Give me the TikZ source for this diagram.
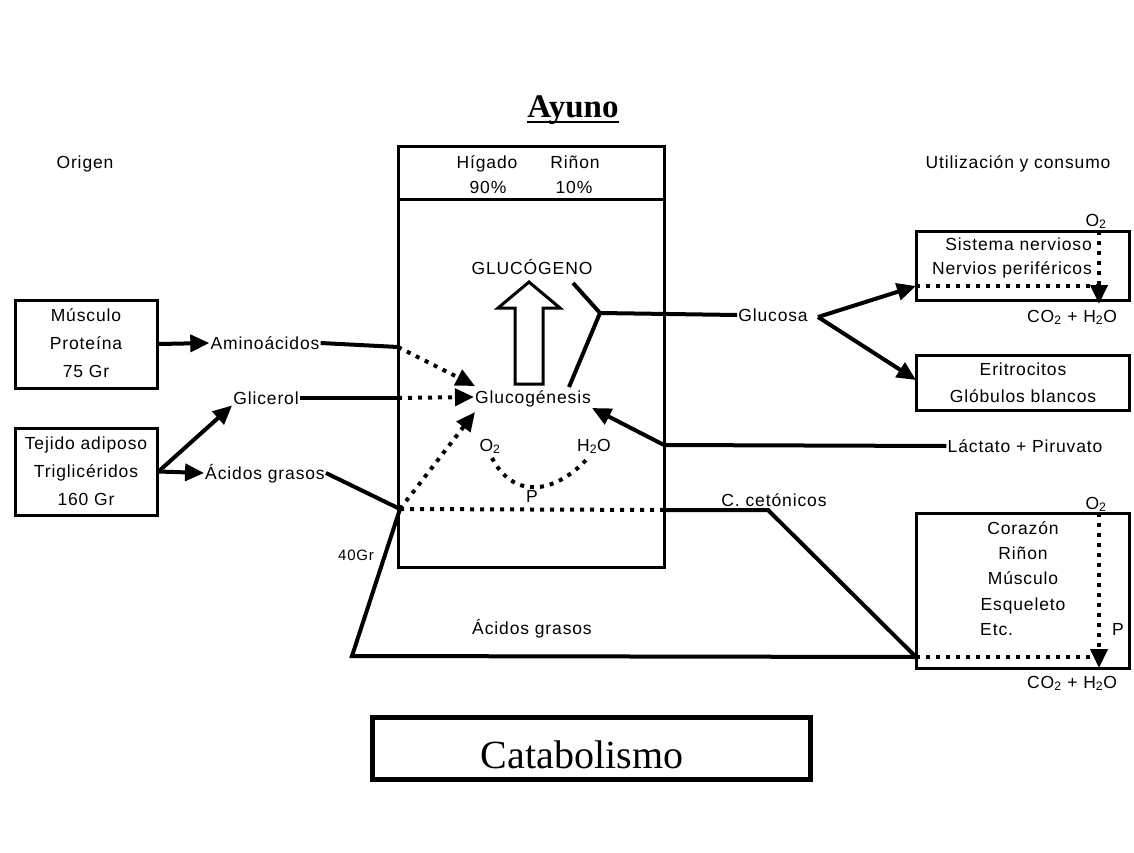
\documentclass[tikz,border=0pt]{standalone}
\usepackage{fontspec}
\setmainfont[LetterSpace=5]{Liberation Sans}
\newfontfamily\serifft{Liberation Serif}
\usetikzlibrary{arrows.meta}

\begin{document}
\begin{tikzpicture}[x=1pt, y=-1pt,
        font=\fontsize{17.5}{21}\selectfont,
        lbl/.style={inner sep=1pt, text height=12.5pt, text depth=0pt},
        box/.style={draw, line width=3pt, inner sep=0pt},
        conn/.style={line width=4pt},
        dots/.style={line width=4pt, dash pattern=on 4pt off 6pt},
        arr/.style={-{Triangle[length=19pt, width=17pt]}}]
        \fill[white] (0,0) rectangle (1134,853);
        \useasboundingbox (0,0) rectangle (1134,853);

        \node[inner sep=0pt, text height=21.8pt, text depth=0pt, font=\serifft\bfseries\fontsize{33}{36}\selectfont] (ayuno) at (573,107) {Ayuno};
        \draw[line width=2pt] ([yshift=-4pt]ayuno.south west) -- ([yshift=-4pt]ayuno.south east);
        \node[lbl] (origen) at (85,162) {Origen};
        \node[lbl] (uso) at (1018,162) {Utilización y consumo};

        % central box
        \node[box, minimum width=266pt, minimum height=420pt] (organ) at (531,357) {};
        \draw[line width=3pt] (organ.west |- 0,199) -- (organ.east |- 0,199);
        \node[lbl] (higado) at (487,162) {Hígado};
        \node[lbl] (rinon) at (575,162) {Riñon};
        \node[lbl] (p90) at (488,187) {90\%};
        \node[lbl] (p10) at (574,187) {10\%};
        \node[lbl] (glucogeno) at (532,268) {GLUCÓGENO};
        \node[lbl] (gluc) at (533,397) {Glucogénesis};
        \node[lbl] (o2b) at (490,445) {O\textsubscript{2}};
        \node[lbl] (h2ob) at (594,445) {H\textsubscript{2}O};
        \node[lbl] (pb) at (532,496) {P};
        \draw[line width=3pt] (515,384) -- (515,308) -- (498,308) -- (529,282) -- (560,308) -- (543,308) -- (543,384) -- cycle;

        % sources
        \node[box, minimum width=142pt, minimum height=88pt] (musculo) at (86,344) {};
        \node[lbl] (mus1) at (86,315) {Músculo};
        \node[lbl] (mus2) at (86,343) {Proteína};
        \node[lbl] (mus3) at (86,371) {75 Gr};
        \node[box, minimum width=142pt, minimum height=87pt] (tejido) at (86,471.5) {};
        \node[lbl] (tej1) at (86,443) {Tejido adiposo};
        \node[lbl] (tej2) at (86,471) {Triglicéridos};
        \node[lbl] (tej3) at (86,499) {160 Gr};
        \node[lbl] (amino) at (265,343) {Aminoácidos};
        \node[lbl] (glicerol) at (266,398) {Glicerol};
        \node[lbl] (acidos) at (265,473) {Ácidos grasos};
        \node[lbl, font=\fontsize{15}{18}\selectfont, text height=10.7pt] (gr40) at (356,555) {40Gr};
        \node[lbl] (acidosb) at (532,628) {Ácidos grasos};
        \node[lbl] (cet) at (774,500) {C. cetónicos};

        % consumers
        \node[lbl] (glucosa) at (773,315) {Glucosa};
        \node[lbl] (lactato) at (1025,446) {Láctato + Piruvato};
        \node[box, minimum width=213pt, minimum height=69pt] (sistema) at (1022.5,265.5) {};
        \node[lbl, anchor=east] (sis1) at (1093,244) {Sistema nervioso};
        \node[lbl, anchor=east] (sis2) at (1093,268) {Nervios periféricos};
        \node[lbl] (o2a) at (1096,220) {O\textsubscript{2}};
        \node[lbl] (co2a) at (1072,316) {CO\textsubscript{2} + H\textsubscript{2}O};
        \node[box, minimum width=213pt, minimum height=55pt] (eritro) at (1022.5,382.5) {};
        \node[lbl] (eri1) at (1023,369) {Eritrocitos};
        \node[lbl] (eri2) at (1023,396) {Glóbulos blancos};
        \node[box, minimum width=213pt, minimum height=155pt] (corazon) at (1022.5,590.5) {};
        \node[lbl] (cor1) at (1023,528) {Corazón};
        \node[lbl] (cor2) at (1023,553) {Riñon};
        \node[lbl] (cor3) at (1023,578) {Músculo};
        \node[lbl] (cor4) at (1023,604) {Esqueleto};
        \node[lbl, anchor=west] (cor5) at (979,629) {Etc.};
        \node[lbl] (o2c) at (1096,503) {O\textsubscript{2}};
        \node[lbl] (pc) at (1118,629) {P};
        \node[lbl] (co2c) at (1072,682) {CO\textsubscript{2} + H\textsubscript{2}O};

        \coordinate (aIn) at (398,347);
        \coordinate (tipA) at (475,386);
        \coordinate (bIn) at (398,398);
        \coordinate (fork) at (400,509);
        \coordinate (tipC) at (475,412);
        \coordinate (cetIn) at (664,510);
        \coordinate (cetK) at (768,510);
        \coordinate (heart) at (916,657);
        \coordinate (grLow) at (352,656);
        \coordinate (lacIn) at (664,445);
        \coordinate (tipL) at (592,408);
        \coordinate (yJ) at (600,313);
        \coordinate (yTop) at (573,283);
        \coordinate (yBot) at (569,387);
        \coordinate (gv) at (818,317);
        \coordinate (sisIn) at (916,286);
        \coordinate (eriIn) at (916,380);
        \coordinate (sisDot) at (1099,286);
        \coordinate (sisTop) at (1099,231);
        \coordinate (sisTip) at (1099,304);
        \coordinate (corDot) at (1099,657);
        \coordinate (corTop) at (1099,513);
        \coordinate (corTip) at (1099,668);
        \coordinate (o2s) at (492,458);
        \coordinate (h2os) at (588,458);

        \draw[conn, arr] (musculo.east) -- (amino.west);
        \draw[conn, arr] (tejido.east) -- (glicerol.south west);
        \draw[conn, arr] (tejido.east) -- (acidos.west);
        \draw[conn] (amino.east) -- (aIn);
        \draw[dots, arr] (aIn) -- (tipA);
        \draw[conn] (glicerol.east) -- (bIn);
        \draw[dots, arr] (bIn) -- (gluc.west);
        \draw[conn] (acidos.east) -- (fork);
        \draw[dots, arr] (fork) -- (tipC);
        \draw[dots] (fork) -- (cetIn);
        \draw[conn] (cetIn) -- (cetK) -- (heart);
        \draw[conn] (heart) -- (grLow) -- (fork);
        \draw[dots] (o2s) .. controls (512,497) and (552,497) .. (h2os);

        \draw[conn] (yTop) -- (yJ) -- (yBot);
        \draw[conn] (yJ) -- (glucosa.west);
        \draw[conn, arr] (gv) -- (sisIn);
        \draw[conn, arr] (gv) -- (eriIn);
        \draw[conn, arr] (lactato.west) -- (lacIn) -- (tipL);

        \draw[dots] (sisIn) -- (sisDot);
        \draw[dots, arr] (sisTop) -- (sisTip);
        \draw[dots] (heart) -- (corDot);
        \draw[dots, arr] (corTop) -- (corTip);

        \node[draw, line width=5pt, minimum width=438pt, minimum height=62pt] (catabbox) at (591.5,748) {};
        \node[inner sep=0pt, text height=26.5pt, text depth=0pt, font=\serifft\fontsize{40}{44}\selectfont] (catab) at (582,755) {Catabolismo};
\end{tikzpicture}
\end{document}
